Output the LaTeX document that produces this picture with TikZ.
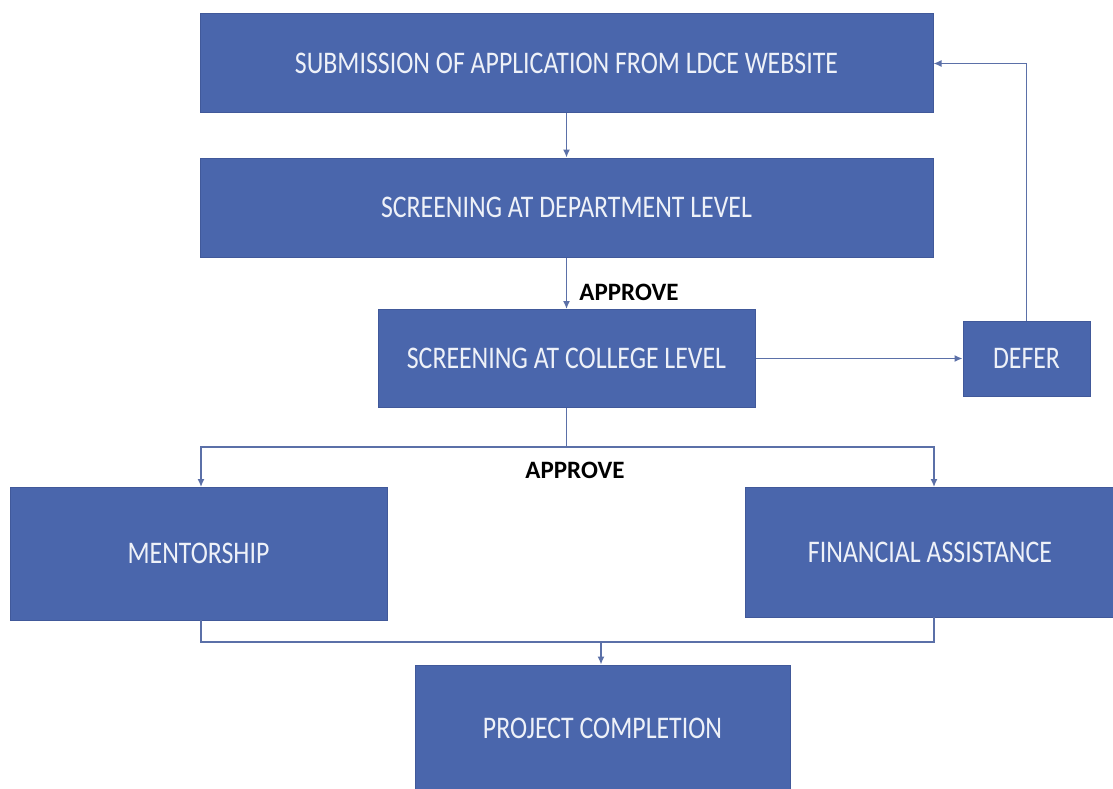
\documentclass[tikz,border=0pt]{standalone}
\usepackage{fontspec}
\setmainfont{Carlito}
\newfontfamily\boxfont[FakeStretch=0.82]{Carlito}
\usetikzlibrary{arrows.meta,calc}
\definecolor{boxblue}{HTML}{4A66AC}
\definecolor{boxedge}{HTML}{41599A}
\definecolor{linec}{HTML}{5B70A8}
\definecolor{boxtext}{HTML}{EEF1F8}
\tikzset{
  flowbox/.style={rectangle, fill=boxblue, draw=boxedge, line width=1pt, inner sep=0pt,
    text=boxtext, font=\boxfont\fontsize{31.5}{31.5}\selectfont, align=center},
  conn/.style={draw=linec, line width=1.4pt, -{Latex[length=8pt,width=7pt]}},
  plain/.style={draw=linec, line width=1.4pt},
  lbl/.style={font=\bfseries\fontsize{25}{25}\selectfont, text=black, inner sep=0pt}
}
\begin{document}
\begin{tikzpicture}[x=1pt,y=-1pt]
\useasboundingbox (0,0) rectangle (1113,789);
\fill[white] (0,0) rectangle (1113,789);
\node[flowbox, minimum width=733pt, minimum height=99pt] (sub) at (566.5,63.5) {SUBMISSION OF APPLICATION FROM LDCE WEBSITE};
\node[flowbox, minimum width=733pt, minimum height=99pt] (dept) at (566.5,207.5) {SCREENING AT DEPARTMENT LEVEL};
\node[flowbox, minimum width=377pt, minimum height=98pt] (coll) at (566.5,358.5) {SCREENING AT COLLEGE LEVEL};
\node[flowbox, minimum width=127pt, minimum height=75pt] (defer) at (1026.5,358.5) {DEFER};
\node[flowbox, minimum width=377pt, minimum height=133pt] (ment) at (198.5,553.5) {MENTORSHIP};
\node[flowbox, minimum width=370pt, minimum height=130pt] (fin) at (930,552) {FINANCIAL ASSISTANCE};
\node[flowbox, minimum width=375pt, minimum height=126pt] (proj) at (602.5,728) {PROJECT COMPLETION};
\node[lbl] (ap1) at (629,292) {APPROVE};
\node[lbl] (ap2) at (575,470) {APPROVE};
\coordinate (split) at (566.5,447);
\coordinate (mtop) at (201,487);
\coordinate (ftop) at (934,487);
\coordinate (mbot) at (201,620);
\coordinate (fbot) at (934,617);
\coordinate (join) at (601,642);
\draw[conn] (sub.south) -- (dept.north);
\draw[conn] (dept.south) -- (coll.north);
\draw[conn] (coll.east) -- (coll.east -| defer.west);
\draw[conn] (defer.north) |- (sub.east);
\draw[plain] (coll.south) -- (split);
\draw[conn] (split) -| (mtop);
\draw[conn] (split) -| (ftop);
\draw[plain] (mbot) |- (join) -| (fbot);
\draw[conn] (join) -- (join |- proj.north);
\end{tikzpicture}
\end{document}
